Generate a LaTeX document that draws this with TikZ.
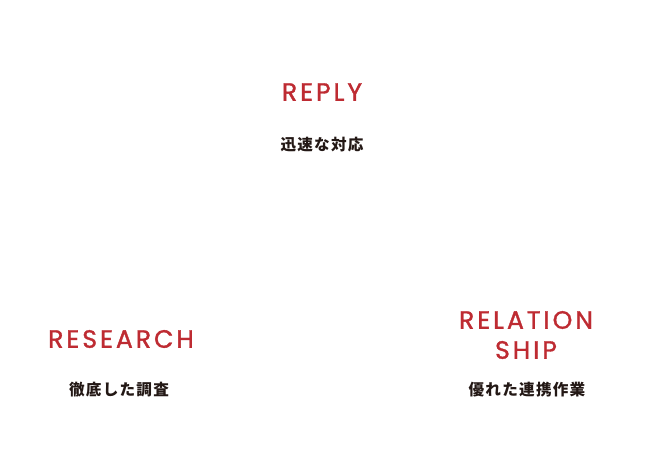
\documentclass[tikz,border=0pt]{standalone}
\usepackage{fontspec}
\newfontfamily\enfont{Poppins}[LetterSpace=12, FakeBold=1.3]
\newfontfamily\jafont{Noto Sans CJK JP}[LetterSpace=8]
\definecolor{keyred}{HTML}{BE2B32}
\definecolor{inkgray}{HTML}{231815}
\begin{document}
\begin{tikzpicture}[
    x=0.75pt, y=-0.75pt,
    title/.style={text=keyred, align=center, font=\enfont\fontsize{18.8}{22.5}\selectfont, inner sep=0pt},
    sub/.style={text=inkgray, font=\jafont\bfseries\fontsize{11.7}{13}\selectfont, inner sep=0pt}
]
    \useasboundingbox[fill=white] (0,0) rectangle (645,472);
    % --- top ---
    \node[title] (reply) at (322,92) {REPLY};
    \node[sub] (replytxt) at (322,145) {迅速な対応};

    % --- bottom left ---
    \node[title] (research) at (121,339) {RESEARCH};
    \node[sub] (researchtxt) at (119,390) {徹底した調査};

    % --- bottom right ---
    \node[title] (relation) at (526,335) {RELATION\\SHIP};
    \node[sub] (relationtxt) at (527,390) {優れた連携作業};
\end{tikzpicture}
\end{document}
